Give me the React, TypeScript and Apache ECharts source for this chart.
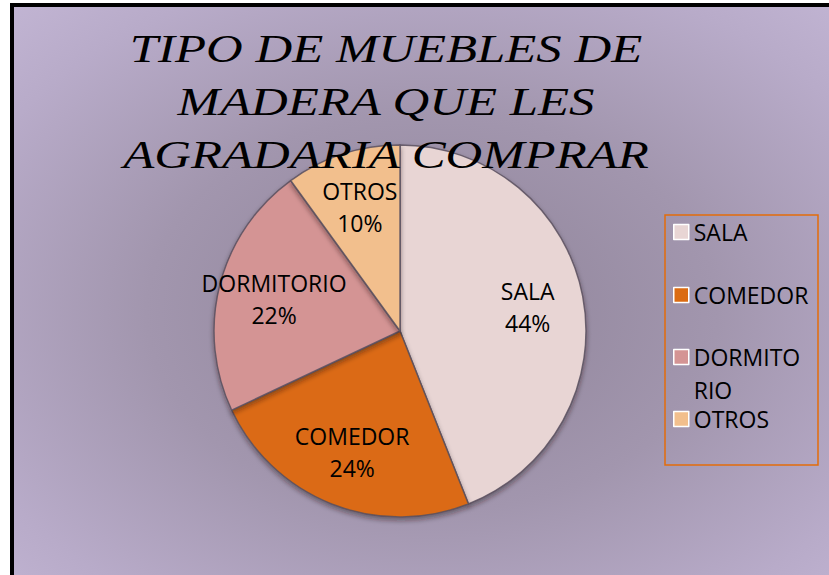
import React, { useEffect, useRef } from "react";
import * as echarts from "echarts";

const categories = ["SALA", "COMEDOR", "DORMITORIO", "OTROS"];
const values = [44, 24, 22, 10];
const sliceColors = ["#E8D5D4", "#DB6B12", "#D49494", "#F2BF8D"];
const titleLines = ["TIPO DE MUEBLES DE", "MADERA QUE LES", "AGRADARIA COMPRAR"];
const legendCenters = [232, 295, 357, 419];

export default function App() {
  const ref = useRef<HTMLDivElement>(null);
  useEffect(() => {
    if (!ref.current) return;
    const chart = echarts.init(ref.current, null, { renderer: "svg" });
    const data = categories.map((name, i) => ({
      name,
      value: values[i],
      itemStyle: { color: sliceColors[i] },
    }));
    const labelFont = {
      fontFamily: "Open Sans",
      fontSize: 23,
      color: "#000",
    };
    const legends = categories.map((name, i) => {
      const isLong = name === "DORMITORIO";
      return {
        orient: "vertical",
        left: 673,
        top: isLong ? legendCenters[i] - 49.5 : legendCenters[i] - 15,
        padding: 0,
        data: [name],
        icon: "rect",
        itemWidth: 15,
        itemHeight: 15,
        selectedMode: false,
        itemStyle: { borderColor: "#ffffff", borderWidth: 1.5 },
        formatter: isLong ? (n: string) => "\n" + n : undefined,
        textStyle: isLong
          ? {
              ...labelFont,
              lineHeight: 33,
              width: 112,
              overflow: "breakAll",
            }
          : { ...labelFont, lineHeight: 30 },
      };
    });
    chart.setOption({
      animation: false,
      graphic: [
        {
          type: "rect",
          z: -10,
          silent: true,
          shape: { x: 12, y: 5, width: 840, height: 590 },
          style: {
            fill: {
              type: "radial",
              x: 0.5,
              y: 0.52,
              r: 0.85,
              colorStops: [
                { offset: 0, color: "#8e8398" },
                { offset: 0.4, color: "#a296ae" },
                { offset: 0.7, color: "#b8abc9" },
                { offset: 1, color: "#cbbedd" },
              ],
            },
            stroke: "#000000",
            lineWidth: 4,
          },
        },
        {
          type: "rect",
          z: 5,
          silent: true,
          shape: { x: 665, y: 215, width: 153, height: 250 },
          style: { fill: "none", stroke: "#E36C0A", lineWidth: 1.5 },
        },
        {
          type: "text",
          z: 20,
          silent: true,
          x: 386,
          y: 101,
          scaleX: 1.24,
          style: {
            text: titleLines.join("\n"),
            align: "center",
            verticalAlign: "middle",
            fontFamily: "Liberation Serif",
            fontStyle: "italic",
            fontSize: 41,
            lineHeight: 53,
            fill: "#000000",
            textShadowColor: "rgba(255,255,255,0.55)",
            textShadowBlur: 0,
            textShadowOffsetX: 1,
            textShadowOffsetY: 1,
          },
        },
      ],
      legend: legends,
      series: [
        {
          type: "pie",
          center: [400, 331],
          radius: [0, 186],
          startAngle: 90,
          clockwise: true,
          silent: true,
          data,
          label: { show: false },
          labelLine: { show: false },
          itemStyle: {
            borderColor: "rgba(90,80,95,0.85)",
            borderWidth: 1.5,
            shadowBlur: 5,
            shadowColor: "rgba(40,20,20,0.45)",
            shadowOffsetY: 3,
          },
        },
        {
          type: "pie",
          center: [400, 331],
          radius: [0, 254],
          startAngle: 90,
          clockwise: true,
          silent: true,
          data: categories.map((name, i) => ({ name, value: values[i] })),
          itemStyle: { color: "rgba(0,0,0,0)", borderWidth: 0 },
          label: {
            show: true,
            position: "inside",
            formatter: "{b}\n{d}%",
            ...labelFont,
            lineHeight: 32,
          },
          labelLine: { show: false },
          emphasis: { disabled: true },
        },
      ],
    });
    return () => chart.dispose();
  }, []);
  return (
    <div
      ref={ref}
      style={{ position: "absolute", left: 0, top: 0, width: 829, height: 575, background: "#fff" }}
    />
  );
}
